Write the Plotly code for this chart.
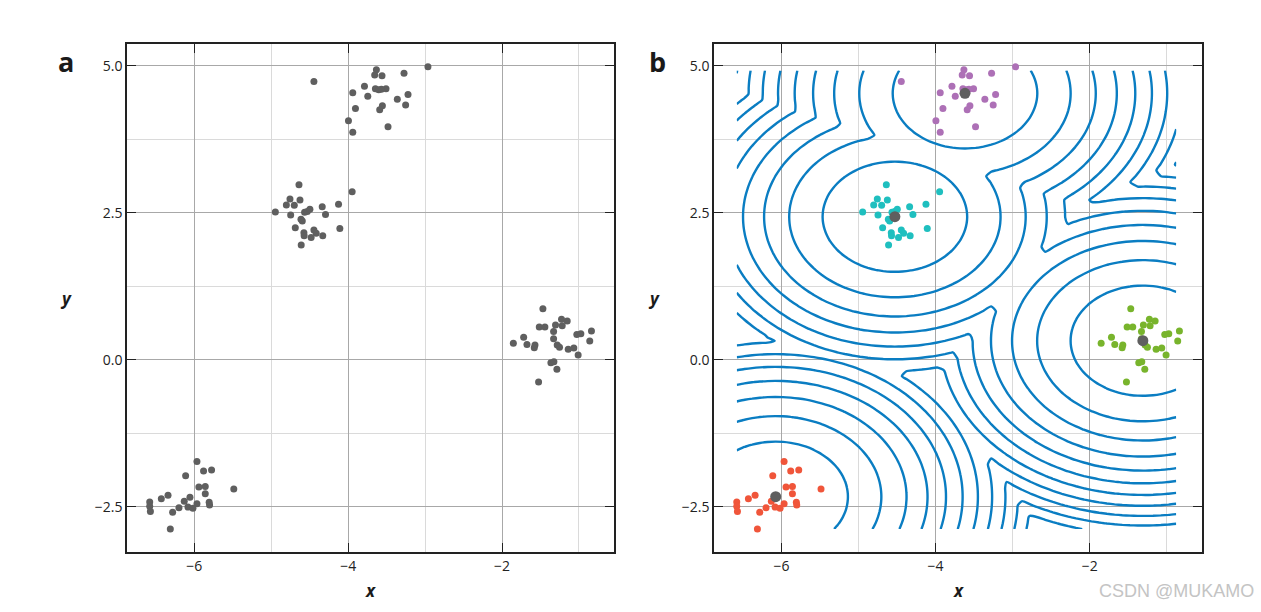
import numpy as np
import plotly.graph_objects as go

# ---- data ----
purple_x = [-4.445, -3.633, -3.655, -3.56, -3.274, -2.963, -3.788, -3.94, -3.508, -3.646, -3.603,
            -3.568, -3.745, -3.222, -3.361, -3.253, -3.905, -3.555, -3.59, -3.996, -3.94, -3.482]
purple_y = [4.73, 4.93, 4.84, 4.83, 4.87, 4.98, 4.65, 4.54, 4.61, 4.61, 4.59,
            4.60, 4.48, 4.51, 4.43, 4.33, 4.27, 4.32, 4.25, 4.065, 3.87, 3.96]

cyan_x = [-4.639, -3.948, -4.756, -4.626, -4.803, -4.70, -4.337, -4.125, -4.946, -4.566, -4.531, -4.497,
          -4.747, -4.294, -4.596, -4.613, -4.687, -4.445, -4.415, -4.575, -4.572, -4.481, -4.330, -4.108, -4.61]
cyan_y = [2.976, 2.857, 2.732, 2.715, 2.63, 2.625, 2.60, 2.645, 2.511, 2.506, 2.52, 2.56,
          2.46, 2.47, 2.358, 2.39, 2.245, 2.205, 2.15, 2.16, 2.11, 2.08, 2.11, 2.23, 1.95]

green_x = [-1.469, -1.516, -1.443, -1.305, -1.227, -1.153, -1.218, -1.33, -1.028, -0.976, -0.838, -0.86,
           -1.719, -1.853, -1.676, -1.572, -1.581, -1.33, -1.283, -1.253, -1.14, -1.067, -1.011,
           -1.365, -1.326, -1.287, -1.525]
green_y = [0.867, 0.556, 0.556, 0.59, 0.686, 0.658, 0.578, 0.48, 0.43, 0.44, 0.49, 0.32,
           0.38, 0.278, 0.26, 0.25, 0.204, 0.357, 0.25, 0.21, 0.176, 0.198, 0.08,
           -0.05, -0.034, -0.164, -0.38]

red_x = [-5.965, -5.879, -5.775, -6.112, -5.486, -5.94, -5.857, -5.857, -6.428, -6.341, -6.056, -6.13,
         -5.806, -5.801, -5.965, -6.082, -6.017, -6.199, -6.281, -6.579, -6.579, -6.57, -6.311]
red_y = [-1.729, -1.893, -1.876, -1.973, -2.2, -2.166, -2.154, -2.279, -2.364, -2.307, -2.341, -2.409,
         -2.426, -2.472, -2.449, -2.506, -2.528, -2.517, -2.596, -2.42, -2.494, -2.58, -2.88]

center_x = [-3.619, -4.528, -1.312, -6.074]
center_y = [4.53, 2.432, 0.323, -2.33]

x_ticks = [-6, -4, -2]
y_ticks = [-2.5, 0.0, 2.5, 5.0]

# ---- styles ----
GRAY = "#5f5f5f"
C_PURPLE = "#ad70b6"
C_CYAN = "#1fbfbf"
C_GREEN = "#78b42c"
C_RED = "#f0553a"
C_LINE = "#0a7dc2"
FONT = "Open Sans"

all_x = np.array(purple_x + cyan_x + green_x + red_x)
all_y = np.array(purple_y + cyan_y + green_y + red_y)

# contour field: minimum squared distance to the cluster centres
gx = np.arange(all_x.min(), all_x.max(), 0.1)
gy = np.arange(all_y.min(), all_y.max(), 0.1)
GX, GY = np.meshgrid(gx, gy)
cx = np.array(center_x)[:, None, None]
cy = np.array(center_y)[:, None, None]
Z = np.min((GX[None] - cx) ** 2 + (GY[None] - cy) ** 2, axis=0)

fig = go.Figure()

# panel a
fig.add_trace(go.Scatter(x=all_x, y=all_y, mode="markers",
                         marker=dict(color=GRAY, size=7, line=dict(width=0)),
                         xaxis="x", yaxis="y", showlegend=False, hoverinfo="skip"))

# panel b
fig.add_trace(go.Contour(x=gx, y=gy, z=Z, xaxis="x2", yaxis="y2",
                         contours=dict(start=0.88, end=14, size=1.0, coloring="lines"),
                         colorscale=[[0, C_LINE], [1, C_LINE]], showscale=False,
                         line=dict(width=2.4, smoothing=0.6), hoverinfo="skip"))
for xs, ys, col in [(purple_x, purple_y, C_PURPLE), (cyan_x, cyan_y, C_CYAN),
                    (green_x, green_y, C_GREEN), (red_x, red_y, C_RED)]:
    fig.add_trace(go.Scatter(x=xs, y=ys, mode="markers",
                             marker=dict(color=col, size=7, line=dict(width=0)),
                             xaxis="x2", yaxis="y2", showlegend=False, hoverinfo="skip"))
fig.add_trace(go.Scatter(x=center_x, y=center_y, mode="markers",
                         marker=dict(color=GRAY, size=11, line=dict(width=0)),
                         xaxis="x2", yaxis="y2", showlegend=False, hoverinfo="skip"))

W, H = 1261, 612
def px(x): return x / W
def py(y): return 1 - y / H

xr = [-6.874, -0.545]
yr = [-3.27, 5.369]
common_x = dict(range=xr, tickvals=x_ticks, ticktext=["\u2212" + str(abs(v)) for v in x_ticks],
                ticks="inside", ticklen=9, tickwidth=1.3, tickcolor="#222",
                showline=True, linecolor="#222", linewidth=1.5, mirror="ticks",
                showgrid=True, gridcolor="#a8a8a8", gridwidth=1,
                minor=dict(dtick=1, tick0=-7, showgrid=True, gridcolor="#dadada", gridwidth=1, ticks=""),
                zeroline=False, tickfont=dict(family=FONT, size=14, color="#222"), fixedrange=True)
common_y = dict(range=yr, tickvals=y_ticks,
                ticktext=["\u22122.5", "0.0", "2.5", "5.0"],
                ticks="inside", ticklen=9, tickwidth=1.3, tickcolor="#222",
                showline=True, linecolor="#222", linewidth=1.5, mirror="ticks",
                showgrid=True, gridcolor="#a8a8a8", gridwidth=1,
                minor=dict(dtick=1.25, tick0=-3.75, showgrid=True, gridcolor="#dadada", gridwidth=1, ticks=""),
                zeroline=False, tickfont=dict(family=FONT, size=14, color="#222"), fixedrange=True)

dom_y = [py(552), py(44)]
fig.update_layout(
    width=W, height=H, margin=dict(l=0, r=0, t=0, b=0),
    paper_bgcolor="white", plot_bgcolor="white", showlegend=False,
    xaxis=dict(domain=[px(127), px(614)], anchor="y", **common_x),
    yaxis=dict(domain=dom_y, anchor="x", **common_y),
    xaxis2=dict(domain=[px(714), px(1202)], anchor="y2", **common_x),
    yaxis2=dict(domain=dom_y, anchor="x2", **common_y),
)

ann = []
for label, x0 in [("a", 66), ("b", 657)]:
    ann.append(dict(text=f"<b>{label}</b>", x=px(x0), y=py(62), xref="paper", yref="paper",
                    showarrow=False, xanchor="center", yanchor="middle",
                    font=dict(family=FONT, size=27, color="#1a1a1a")))
for x0 in [66, 654]:
    ann.append(dict(text="<b><i>y</i></b>", x=px(x0), y=py(298), xref="paper", yref="paper",
                    showarrow=False, xanchor="center", yanchor="middle",
                    font=dict(family=FONT, size=17, color="#1a1a1a")))
for x0 in [370, 958]:
    ann.append(dict(text="<b><i>x</i></b>", x=px(x0), y=py(590), xref="paper", yref="paper",
                    showarrow=False, xanchor="center", yanchor="middle",
                    font=dict(family=FONT, size=17, color="#1a1a1a")))
ann.append(dict(text="CSDN @MUKAMO", x=px(1256), y=py(591), xref="paper", yref="paper",
                showarrow=False, xanchor="right", yanchor="middle",
                font=dict(family="Liberation Sans", size=18, color="#c4c4c4")))
fig.update_layout(annotations=ann)

fig.write_html("out.html", config={"displayModeBar": False},
               post_script="document.body.style.margin='0px';document.body.style.overflow='hidden';")
